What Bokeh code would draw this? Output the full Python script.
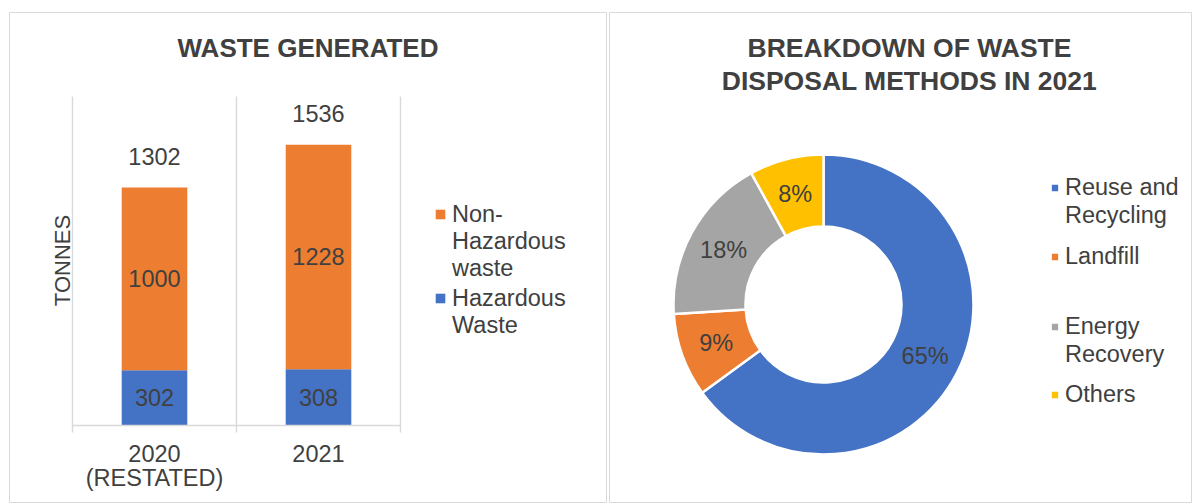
import numpy as np
from bokeh.plotting import figure
from bokeh.layouts import row
from bokeh.models import (Range1d, LinearAxis, FixedTicker, Label, Legend,
                          LegendItem, ColumnDataSource)
from bokeh.embed import file_html
from bokeh.resources import INLINE
from bokeh.core.properties import value

# ---------------- data ----------------
years = ["2020\n(RESTATED)", "2021"]
hazardous = [302, 308]
non_hazardous = [1000, 1228]
totals = [1302, 1536]
y_axis_max = 1800
waste_legend = [["Non-", "Hazardous", "waste"], ["Hazardous", "Waste"]]

methods = [["Reuse and", "Recycling"], ["Landfill"], ["Energy", "Recovery"], ["Others"]]
method_share = [65, 9, 18, 8]

# ---------------- styles ----------------
BLUE, ORANGE, GRAY, YELLOW = "#4472C4", "#ED7D31", "#A5A5A5", "#FFC000"
TEXT = "#404040"
LINE = "#D9D9D9"
FONT = "Liberation Sans"
FS = "23.5px"

H = 503
fr_t, fr_b = 12, 503


def line_legend(lines, renderer, index, x_frame, y_first_px, h, glyph, standoff):
    items = [LegendItem(label=lines[0], renderers=[renderer], index=index)]
    items += [LegendItem(label=t, renderers=[]) for t in lines[1:]]
    bottom_px = y_first_px - h / 2 + len(lines) * h
    return Legend(items=items, location=(x_frame, fr_b - bottom_px),
                  orientation="vertical", glyph_width=glyph, glyph_height=glyph,
                  label_height=h, label_standoff=standoff, spacing=0,
                  padding=0, margin=0, border_line_color=None,
                  background_fill_alpha=0, label_text_font=FONT,
                  label_text_font_size=FS, label_text_color=TEXT,
                  label_text_baseline="middle")


# ================= left panel: stacked bars =================
W1 = 608
fr_l, fr_r = 9, 606
cat0_px, cat_w_px = 72, 164
y0_px, ymax_px = 425, 96
sy = (y0_px - ymax_px) / y_axis_max


def lx(px):
    return (px - cat0_px) / cat_w_px


def ly(py):
    return (y0_px - py) / sy


p1 = figure(width=W1, height=H, output_backend="svg", toolbar_location=None,
            x_axis_type=None, y_axis_type=None,
            x_range=Range1d(lx(fr_l), lx(fr_r)), y_range=Range1d(ly(fr_b), ly(fr_t)),
            min_border_left=fr_l, min_border_right=W1 - fr_r,
            min_border_top=fr_t, min_border_bottom=0)
p1.xgrid.visible = False
p1.ygrid.visible = False
p1.outline_line_color = LINE
p1.outline_line_width = 1
p1.background_fill_color = "white"
p1.border_fill_color = "white"

n = len(years)
xc = np.arange(n) + 0.5
src = ColumnDataSource(dict(x=xc, haz=hazardous, non=non_hazardous))

edges = np.arange(n + 1)
p1.segment(x0=edges, y0=ly(432), x1=edges, y1=y_axis_max, line_color=LINE, line_width=1.4)

rs = p1.vbar_stack(["haz", "non"], x="x", width=0.4, color=[BLUE, ORANGE],
                   line_color=None, source=src)

haz_arr = np.array(hazardous)
non_arr = np.array(non_hazardous)
lab_kw = dict(text_font=value(FONT), text_font_size=FS, text_color=TEXT,
              text_align="center", text_baseline="middle")
p1.text(x=xc, y=haz_arr / 2, text=[str(v) for v in hazardous], **lab_kw)
p1.text(x=xc, y=haz_arr + non_arr / 2, text=[str(v) for v in non_hazardous], **lab_kw)
p1.text(x=xc, y=totals, y_offset=-31, text=[str(v) for v in totals], **lab_kw)

ax_labels = LinearAxis(ticker=FixedTicker(ticks=list(xc)), fixed_location=0,
                       bounds=(0, n), axis_line_color=LINE, axis_line_width=1.4,
                       major_tick_line_color=None, minor_tick_line_color=None,
                       major_label_standoff=9,
                       major_label_overrides={float(x): t for x, t in zip(xc, years)},
                       major_label_text_font=FONT, major_label_text_font_size=FS,
                       major_label_text_color=TEXT, major_label_text_line_height=0.95)
p1.add_layout(ax_labels, "below")

p1.add_layout(Label(x=lx(62), y=ly(260), text="TONNES", angle=np.pi / 2,
                    text_align="center", text_baseline="middle",
                    text_font=FONT, text_font_size="22px", text_color=TEXT))
p1.add_layout(Label(x=lx(307.5), y=ly(47), text="WASTE GENERATED",
                    text_align="center", text_baseline="middle",
                    text_font=FONT, text_font_size="26px", text_font_style="bold",
                    text_color=TEXT))

p1.add_layout(line_legend(waste_legend[0], rs[1], None, 434 - fr_l, 214, 27, 12, 6))
p1.add_layout(line_legend(waste_legend[1], rs[0], None, 434 - fr_l, 298, 27, 12, 6))

# ================= right panel: doughnut =================
W2 = 584
fr2_l, fr2_r = 609, 1192
cx_px, cy_px = 823, 304
r_in, r_out = 78, 150


def rx(px):
    return px - cx_px


def ry(py):
    return cy_px - py


p2 = figure(width=W2, height=H, output_backend="svg", toolbar_location=None,
            x_axis_type=None, y_axis_type=None,
            x_range=Range1d(rx(fr2_l), rx(fr2_r)), y_range=Range1d(ry(fr_b), ry(fr_t)),
            min_border_left=fr2_l - W1, min_border_right=W1 + W2 - fr2_r,
            min_border_top=fr_t, min_border_bottom=0)
p2.xgrid.visible = False
p2.ygrid.visible = False
p2.outline_line_color = LINE
p2.outline_line_width = 1

share = np.array(method_share, dtype=float)
frac = share / share.sum()
cum = np.concatenate([[0], np.cumsum(frac)])
start = np.pi / 2 - 2 * np.pi * cum[:-1]
end = np.pi / 2 - 2 * np.pi * cum[1:]
mid = (start + end) / 2
dsrc = ColumnDataSource(dict(start=start, end=end,
                             color=[BLUE, ORANGE, GRAY, YELLOW]))
wr = p2.annular_wedge(x=0, y=0, inner_radius=r_in, outer_radius=r_out,
                      start_angle="start", end_angle="end", direction="clock",
                      fill_color="color", line_color="white", line_width=2.5,
                      source=dsrc)
r_lab = (r_in + r_out) / 2
p2.text(x=r_lab * np.cos(mid), y=r_lab * np.sin(mid),
        text=[f"{v}%" for v in method_share], **lab_kw)

p2.add_layout(Label(x=rx(909), y=ry(64),
                    text="BREAKDOWN OF WASTE\nDISPOSAL METHODS IN 2021",
                    text_align="center", text_baseline="middle",
                    text_font=FONT, text_font_size="26.5px", text_font_style="bold",
                    text_color=TEXT, text_line_height=1.08))

leg_first_y = [187, 256, 326, 394]
for i, (lines, yy) in enumerate(zip(methods, leg_first_y)):
    p2.add_layout(line_legend(lines, wr, i, 1049 - fr2_l, yy, 28, 11, 5))

layout = row(p1, p2)
open("out.html", "w").write(file_html(layout, INLINE))
